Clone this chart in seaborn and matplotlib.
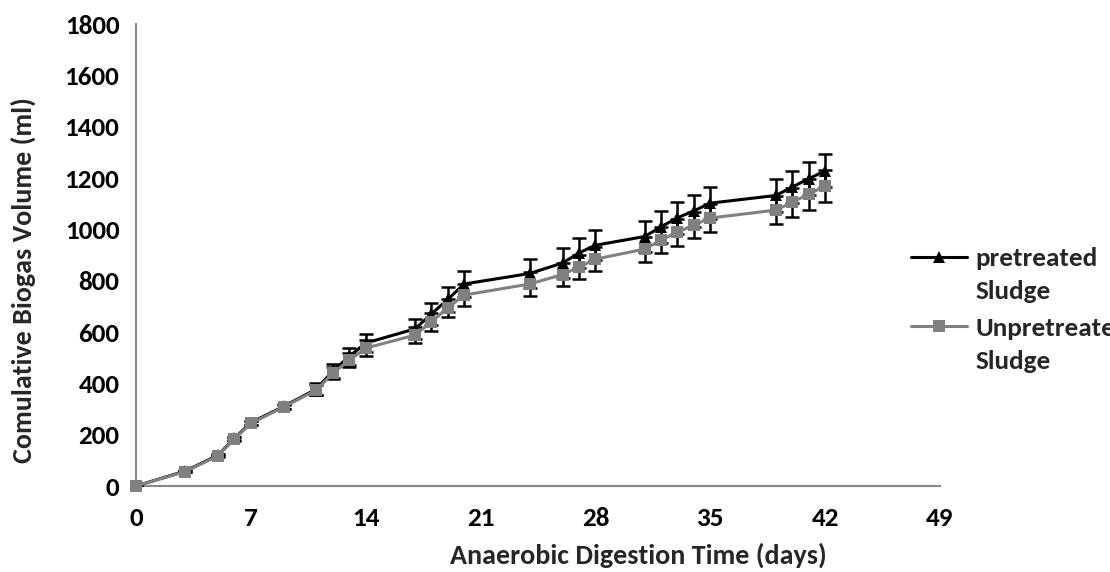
import matplotlib
matplotlib.use("Agg")
import matplotlib.pyplot as plt
import seaborn as sns
import pandas as pd

days = [0, 3, 5, 6, 7, 9, 11, 12, 13, 14, 17, 18, 19, 20, 24, 26, 27, 28, 31, 32, 33, 34, 35, 39, 40, 41, 42]
pretreated = [0, 58, 120, 186, 247, 310, 378, 448, 505, 557, 612, 670, 727, 787, 828, 869, 908, 938,
              972, 1010, 1045, 1072, 1102, 1132, 1165, 1197, 1228]
unpretreated = [0, 56, 118, 183, 244, 308, 374, 440, 490, 537, 588, 639, 694, 744, 787, 824, 853, 884,
                923, 958, 989, 1017, 1044, 1075, 1106, 1137, 1169]
pretreated_err = [0, 3, 5, 6, 8, 9, 22, 28, 32, 35, 39, 44, 49, 52, 56, 57, 57, 58,
                  61, 62, 63, 63, 63, 63, 64, 64, 65]
unpretreated_err = [0, 3, 5, 6, 8, 9, 18, 24, 28, 31, 31, 34, 36, 42, 46, 45, 46, 48,
                    49, 51, 52, 52, 54, 54, 56, 60, 63]
series_names = ["pretreated", "Unpretreated"]
series_suffix = "Sludge"
x_ticks = [0, 7, 14, 21, 28, 35, 42, 49]
y_ticks = [0, 200, 400, 600, 800, 1000, 1200, 1400, 1600, 1800]

sns.set_style("white")
plt.rcParams["font.family"] = ["Carlito", "Lato", "DejaVu Sans"]
plt.rcParams["font.weight"] = "bold"
FS = 19.5
FS_LABEL = 20.2

fig = plt.figure(figsize=(11.1, 5.72), dpi=100)
ax = fig.add_axes([136 / 1110, 1 - 486 / 572, (940 - 136) / 1110, (486 - 24) / 572])

df = pd.concat([
    pd.DataFrame({"day": days, "vol": pretreated, "series": series_names[0]}),
    pd.DataFrame({"day": days, "vol": unpretreated, "series": series_names[1]}),
])

ax.errorbar(days, pretreated, yerr=pretreated_err, fmt="none", ecolor="black",
            elinewidth=1.8, capsize=5, capthick=1.8, zorder=1)
ax.errorbar(days, unpretreated, yerr=unpretreated_err, fmt="none", ecolor="black",
            elinewidth=1.8, capsize=5, capthick=1.8, zorder=1)

sns.lineplot(data=df, x="day", y="vol", hue="series", style="series",
             palette={series_names[0]: "black", series_names[1]: "#808080"},
             markers={series_names[0]: "^", series_names[1]: "s"},
             dashes=False, linewidth=2.2, markersize=8, markeredgewidth=0,
             ax=ax, legend=True, zorder=3, clip_on=False)

ax.set_xlim(0, 49)
ax.set_ylim(0, 1800)
ax.set_xticks(x_ticks)
ax.set_yticks(y_ticks)
ax.set_xlabel("")
ax.set_ylabel("")

for s in ["top", "right"]:
    ax.spines[s].set_visible(False)
for s in ["left", "bottom"]:
    ax.spines[s].set_color("#888888")
    ax.spines[s].set_linewidth(1.5)
    ax.spines[s].set_zorder(0)
ax.tick_params(axis="both", direction="out", length=7, width=1.5, color="#888888",
               labelsize=FS, labelcolor="black")
ax.tick_params(axis="x", pad=8)
ax.tick_params(axis="y", pad=5)
for lbl in ax.get_xticklabels() + ax.get_yticklabels():
    lbl.set_fontweight("bold")

fig.text(638 / 1110, 1 - 555 / 572, "Anaerobic Digestion Time (days)", ha="center", va="center",
         fontsize=FS_LABEL, fontweight="bold")
fig.text(23 / 1110, 1 - 280 / 572, "Comulative Biogas Volume (ml)", ha="center", va="center",
         rotation=90, fontsize=FS_LABEL, fontweight="bold")

handles, labels = ax.get_legend_handles_labels()
ax.get_legend().remove()
leg = fig.legend(handles, labels, loc="upper left", bbox_to_anchor=(911 / 1110, 1 - 247 / 572),
                 frameon=False, prop={"size": FS, "weight": "bold"}, handlelength=2.05,
                 handletextpad=0.33, labelspacing=1.72, borderaxespad=0, borderpad=0)
fig.canvas.draw()
renderer = fig.canvas.get_renderer()
for t in leg.get_texts():
    bb = t.get_window_extent(renderer)
    x0, y0 = fig.transFigure.inverted().transform((bb.x0, bb.y0))
    fig.text(x0, y0 - 10 / 572, series_suffix, ha="left", va="top",
             fontproperties=t.get_fontproperties())

fig.savefig("out.png", dpi=100)
